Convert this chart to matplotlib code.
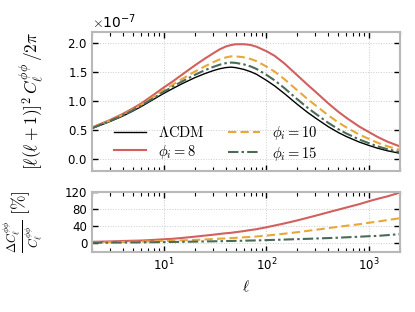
''' lensing potential power spectrum, LCDM vs phi_i models '''
import numpy as np
import matplotlib.pyplot as plt

plt.rcParams['mathtext.fontset'] = 'cm'
plt.rcParams['font.family'] = 'DejaVu Sans'

# multipoles
ell = [2, 3, 4, 5, 6, 8, 10, 12, 15, 20, 25, 30, 35, 40, 45, 50, 60, 70, 80, 100, 120, 150,
       200, 250, 300, 400, 500, 600, 800, 1000, 1200, 1500, 2000]

# [l(l+1)]^2 C_l^phiphi / 2pi in units of 1e-7
cl_lcdm = [0.530, 0.650, 0.745, 0.830, 0.905, 1.035, 1.135, 1.210, 1.300, 1.405, 1.475, 1.525,
           1.560, 1.580, 1.588, 1.580, 1.550, 1.510, 1.465, 1.360, 1.265, 1.130, 0.945, 0.810,
           0.710, 0.560, 0.460, 0.390, 0.295, 0.235, 0.190, 0.145, 0.100]
cl_phi8 = [0.546, 0.676, 0.782, 0.876, 0.959, 1.113, 1.237, 1.331, 1.456, 1.616, 1.733, 1.822,
           1.895, 1.943, 1.969, 1.983, 1.984, 1.971, 1.941, 1.863, 1.784, 1.650, 1.446, 1.288,
           1.164, 0.963, 0.819, 0.714, 0.563, 0.465, 0.386, 0.303, 0.218]
cl_phi10 = [0.541, 0.665, 0.765, 0.855, 0.936, 1.078, 1.192, 1.277, 1.382, 1.510, 1.600, 1.670,
            1.721, 1.754, 1.774, 1.774, 1.759, 1.729, 1.692, 1.598, 1.512, 1.379, 1.186, 1.041,
            0.930, 0.756, 0.635, 0.548, 0.425, 0.347, 0.285, 0.223, 0.158]
cl_phi15 = [0.535, 0.658, 0.755, 0.843, 0.921, 1.057, 1.162, 1.243, 1.339, 1.454, 1.533, 1.589,
            1.630, 1.656, 1.667, 1.662, 1.637, 1.601, 1.557, 1.455, 1.361, 1.224, 1.033, 0.891,
            0.786, 0.626, 0.518, 0.443, 0.339, 0.273, 0.222, 0.172, 0.121]

col_red = '#d1605e'
col_yellow = '#e8a838'
col_green = '#4b6b58'
dashed = (0, (4, 2))
dashdot = (0, (5, 1.5, 1.2, 1.5))

ell = np.array(ell)
lcdm = np.array(cl_lcdm)
models = [
    (np.array(cl_phi8), col_red, '-', r'$\phi_i = 8$'),
    (np.array(cl_phi10), col_yellow, dashed, r'$\phi_i = 10$'),
    (np.array(cl_phi15), col_green, dashdot, r'$\phi_i = 15$'),
]

fig = plt.figure(figsize=(4.15, 3.12), dpi=100)
ax1 = fig.add_axes([0.2217, 0.4529, 0.7422, 0.4455])
ax2 = fig.add_axes([0.2217, 0.1933, 0.7422, 0.1923])

ax1.plot(ell, lcdm * 1e-7, color='black', lw=1.0, label=r'$\Lambda\mathrm{CDM}$')
for cl, col, ls, lab in models:
    ax1.plot(ell, cl * 1e-7, color=col, lw=1.5, ls=ls, label=lab)
    # relative difference to LCDM in percent
    ax2.plot(ell, 100 * (cl - lcdm) / lcdm, color=col, lw=1.5, ls=ls)

for ax in (ax1, ax2):
    ax.set_xscale('log')
    ax.set_xlim(2, 2000)
    ax.grid(True, which='major', color='#cccccc', ls=':', lw=0.7)
    for sp in ax.spines.values():
        sp.set_color('#b8b8b8')
        sp.set_linewidth(1.5)
    ax.tick_params(which='both', direction='in', top=True, right=True, labelsize=8.5, color='black')
    ax.tick_params(which='major', length=4, width=1.0)
    ax.tick_params(which='minor', length=3, width=0.8)

ax1.set_ylim(-0.2e-7, 2.2e-7)
ax1.set_yticks([0, 0.5e-7, 1.0e-7, 1.5e-7, 2.0e-7])
ax1.ticklabel_format(axis='y', style='sci', scilimits=(0, 0), useMathText=True)
ax1.yaxis.get_offset_text().set_fontsize(10)
ax1.tick_params(labelbottom=False)
ax1.set_ylabel(r'$[\ell(\ell+1)]^2\,C_\ell^{\phi\phi}\,/2\pi$', fontsize=12.5)
ax1.yaxis.set_label_coords(-0.153, 0.5)

ax1.legend(ncol=2, frameon=False, loc='lower left', bbox_to_anchor=(0.03, -0.036), fontsize=10.5,
           handlelength=2.2, columnspacing=1.6, labelspacing=0.15)

ax2.set_ylim(-20, 120)
ax2.set_yticks([0, 40, 80, 120])
ax2.set_ylabel(r'$\frac{\Delta C_\ell^{\phi\phi}}{C_\ell^{\phi\phi}}\ [\%]$', fontsize=12.5)
ax2.yaxis.set_label_coords(-0.153, 0.5)
ax2.set_xlabel(r'$\ell$', fontsize=11)

fig.savefig('out.png', dpi=100)
